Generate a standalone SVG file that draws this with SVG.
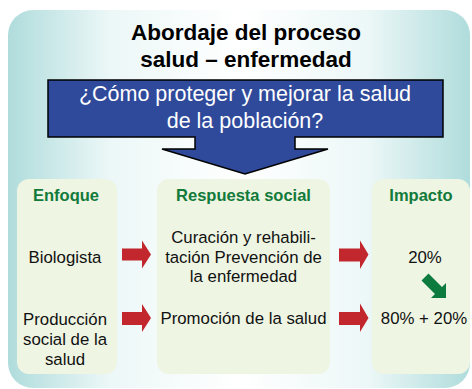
<svg xmlns="http://www.w3.org/2000/svg" width="472" height="389" viewBox="0 0 472 389">
<defs>
<linearGradient id="bg" x1="0" y1="0" x2="1" y2="0">
<stop offset="0" stop-color="#b0dcdc"/>
<stop offset="0.22" stop-color="#ecf7f7"/>
<stop offset="0.5" stop-color="#ffffff"/>
<stop offset="0.78" stop-color="#ecf7f7"/>
<stop offset="1" stop-color="#b0dcdc"/>
</linearGradient>
<style>
text{font-family:"Liberation Sans",Arial,sans-serif;text-anchor:middle}
.title{font-size:22.5px;font-weight:bold;fill:#000}
.ban{font-size:21.5px;fill:#fff}
.hdr{font-size:16.5px;font-weight:bold;fill:#127a3a}
.body{font-size:16.8px;fill:#111}
.panel{fill:#eef5e3}
.red{fill:#c1272d}
</style>
</defs>
<rect x="8" y="10" width="462" height="378" rx="25" fill="url(#bg)"/>
<g id="title">
<text class="title" x="246" y="40">Abordaje del proceso</text>
<text class="title" x="246" y="67">salud – enfermedad</text>
</g>
<g id="banner">
<polygon points="48,80 443,80 443,137 295,137 295,149 328,149 245,174 162,149 195,149 195,137 48,137" fill="#2f4a9b" stroke="#000" stroke-width="1.5"/>
<text class="ban" x="245" y="101">¿Cómo proteger y mejorar la salud</text>
<text class="ban" x="245" y="128">de la población?</text>
</g>
<g id="enfoque">
<rect class="panel" x="17" y="179" width="100" height="195" rx="12"/>
<text class="hdr" x="66" y="200.5">Enfoque</text>
<text class="body" x="65" y="263">Biologista</text>
<text class="body" x="65" y="325">Producción</text>
<text class="body" x="65" y="345">social de la</text>
<text class="body" x="65" y="365">salud</text>
</g>
<g id="respuesta">
<rect class="panel" x="157" y="179" width="173" height="195" rx="12"/>
<text class="hdr" x="243.5" y="200.5">Respuesta social</text>
<text class="body" x="243.5" y="243">Curación y rehabili-</text>
<text class="body" x="243.5" y="262.5">tación Prevención de</text>
<text class="body" x="243.5" y="282">la enfermedad</text>
<text class="body" x="243.5" y="323.5">Promoción de la salud</text>
</g>
<g id="impacto">
<rect class="panel" x="372" y="179" width="98" height="195" rx="12"/>
<text class="hdr" x="421" y="200.5">Impacto</text>
<text class="body" x="425" y="263">20%</text>
<text class="body" x="424" y="324">80% + 20%</text>
</g>
<g id="connectors">
<polygon class="red" points="122,248.5 142,248.5 142,240.5 151,254.5 142,268.5 142,260.5 122,260.5"/>
<polygon class="red" points="122,312 142,312 142,304 151,318 142,332 142,325 122,325"/>
<polygon class="red" points="339,248.5 360,248.5 360,240.5 368.5,254.5 360,269 360,261.5 339,261.5"/>
<polygon class="red" points="339,312 360,312 360,303.5 368.5,318 360,332 360,325 339,325"/>
<polygon fill="#0d7a3e" points="428.5,273.5 442,287 446,283 446,298 431,298 435,294 421.5,280.5"/>
</g>
</svg>
